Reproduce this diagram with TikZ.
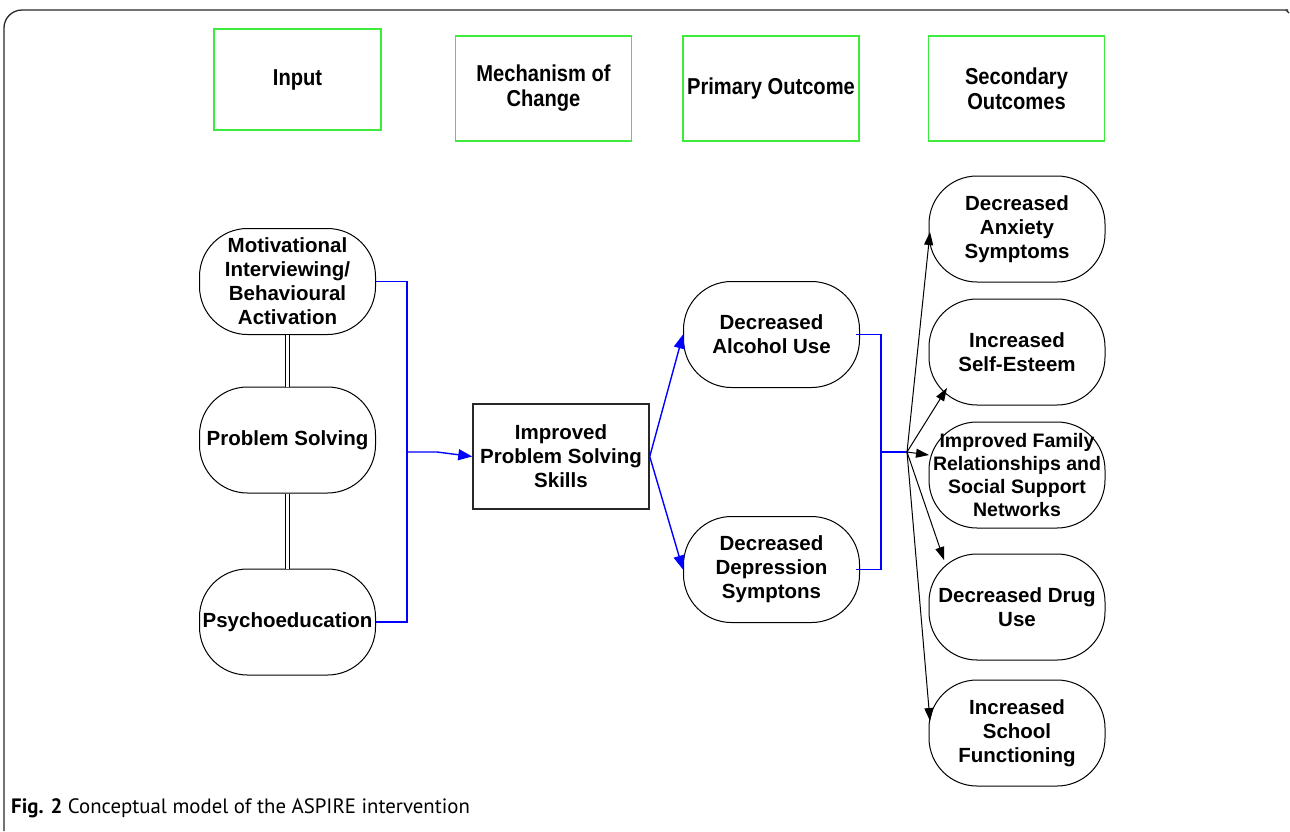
\documentclass[tikz,border=0pt]{standalone}
\usepackage{fontspec}
\setmainfont{Liberation Sans}
\newfontfamily\narrowfont[FakeStretch=0.875]{Liberation Sans}
\newfontfamily\capfont{PT Sans}
\usetikzlibrary{arrows.meta,calc}
\definecolor{boxgreen}{RGB}{60,235,60}
\definecolor{lineblue}{RGB}{0,0,255}
\definecolor{framegray}{RGB}{40,40,40}
\begin{document}
\begin{tikzpicture}[x=1pt,y=-1pt,
  pill/.style={draw=black, line width=1pt, rounded corners=48pt, minimum width=176pt, minimum height=106pt, align=center, inner sep=0pt, font=\bfseries\fontsize{20.5}{24}\selectfont},
  hdr/.style={draw=boxgreen, line width=1.6pt, minimum width=176pt, minimum height=105pt, align=center, inner sep=0pt, font=\narrowfont\bfseries\fontsize{23}{25}\selectfont},
  mechbox/.style={draw=framegray, line width=1.5pt, minimum width=176pt, minimum height=105pt, align=center, inner sep=0pt, font=\bfseries\fontsize{20.5}{24}\selectfont},
  blueline/.style={draw=lineblue, line width=1.4pt},
  bluearrow/.style={blueline, -{Triangle[length=14pt,width=11pt]}},
  blackarrow/.style={draw=black, line width=1pt, -{Triangle[length=13pt,width=9pt]}},
  dbl/.style={draw=black, double=white, double distance=3pt, line width=1pt}
]
\useasboundingbox (0,0) rectangle (1290,831);
% frame
\draw[framegray, line width=1.3pt, rounded corners=18pt] (4,831) -- (4,10) -- (1288,10);
\draw[framegray, line width=1.3pt] (1286,10) -- (1289,13);

% headers
\node[hdr, minimum width=167pt, minimum height=101pt] (hIn) at (297.5,79.5) {Input};
\node[hdr] (hMech) at (543.5,88.5) {Mechanism of\\Change};
\node[hdr] (hPrim) at (771,88.5) {Primary Outcome};
\node[hdr] (hSec) at (1016.5,88.5) {Secondary\\Outcomes};

% inputs
\node[pill] (in1) at (287.5,281.5) {Motivational\\Interviewing/\\Behavioural\\Activation};
\node[pill] (in2) at (287.5,440) {Problem Solving};
\node[pill] (in3) at (287.5,622) {Psychoeducation};
\draw[dbl] (in1.south) -- (in2.north);
\draw[dbl] (in2.south) -- (in3.north);

% mechanism
\node[mechbox] (mech) at (561,456.5) {Improved\\Problem Solving\\Skills};

% primary
\node[pill] (alc) at (771.5,334.5) {Decreased\\Alcohol Use};
\node[pill] (dep) at (771.5,569.5) {Decreased\\Depression\\Symptons};

% secondary
\node[pill] (anx) at (1017,229) {Decreased\\Anxiety\\Symptoms};
\node[pill] (est) at (1017,352) {Increased\\Self-Esteem};
\node[pill, font=\bfseries\fontsize{19.5}{23}\selectfont] (fam) at (1017,475) {Improved Family\\Relationships and\\Social Support\\Networks};
\node[pill] (drug) at (1017,607) {Decreased Drug\\Use};
\node[pill] (sch) at (1017,733) {Increased\\School\\Functioning};

% blue connectors
\coordinate (jL) at (407,452);
\coordinate (jR) at (881,452);
\coordinate (fan) at (907,452);
\draw[blueline] (in1.east) -| (jL);
\draw[blueline] (in3.east) -| (jL);
\draw[bluearrow] (jL) -- ++(30,0) -- (mech.west);
\draw[bluearrow] (mech.east) -- (alc.west);
\draw[bluearrow] (mech.east) -- (dep.west);
\draw[blueline] ($(alc.east)+(-4,0)$) -| (jR);
\draw[blueline] ($(dep.east)+(-4,0)$) -| (jR);
\draw[blueline] (jR) -- (fan);

% black fan
\draw[blackarrow] (fan) -- ($(anx.center)+(-87,3)$);
\draw[blackarrow] (fan) -- ($(est.center)+(-70,36)$);
\draw[blackarrow] (fan) -- ($(fam.center)+(-88,-20)$);
\draw[blackarrow] (fan) -- ($(drug.center)+(-73,-47)$);
\draw[blackarrow] (fan) -- ($(sch.center)+(-87,-12)$);

% caption
\node[anchor=base west, inner sep=0pt, font=\capfont\fontsize{20.8}{24}\selectfont] (cap) at (11,813) {\textbf{Fig. 2} Conceptual model of the ASPIRE intervention};
\end{tikzpicture}
\end{document}
